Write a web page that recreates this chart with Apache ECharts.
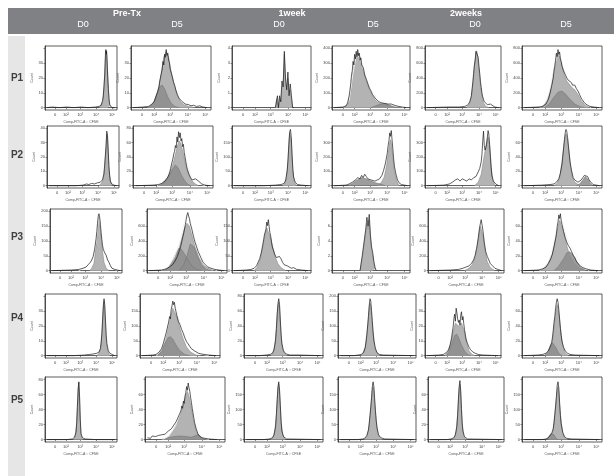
<!DOCTYPE html>
<html><head><meta charset="utf-8">
<script src="https://cdn.jsdelivr.net/npm/echarts@6/dist/echarts.min.js"></script>
<style>html,body{margin:0;padding:0;background:#fff}#c{width:614px;height:476px}</style>
</head><body><div id="c"></div>
<script>
// ---------- labels ----------
const TIMEPOINTS = ['Pre-Tx', '1week', '2weeks'];
const DAYS = ['D0', 'D5', 'D0', 'D5', 'D0', 'D5'];
const ROW_LABELS = ['P1', 'P2', 'P3', 'P4', 'P5'];
const XTICK_POS = [14, 29, 49, 71, 93];
const XTICK_LABELS = ['0', '10²', '10³', '10⁴', '10⁵'];
const YTICK_POS = [0, 25, 50, 75, 100];
const X_NAME = 'Comp-FITC-A :: CFSE';
const Y_NAME = 'Count';

// ---------- P1 ----------
const p1c1_fill = [[76,0],[78,3],[80,10],[82,35],[83,60],[84,85],[85,95],[86,88],[87,60],[88,30],[89,10],[90,3],[92,0]];
const p1c1_line = [[3,0],[10,1],[20,0],[30,1],[40,0],[50,1],[60,0],[70,1],[75,2],[78,4],[80,12],[81,20],[82,38],[83,55],[83.5,75],[84,92],[84.5,98],[85,90],[85.5,96],[86,85],[86.5,70],[87,55],[88,32],[89,14],[90,5],[91,2],[93,0],[97,0]];
const p1c2_fill = [[20,0],[25,3],[30,12],[34,30],[38,60],[41,85],[44,95],[47,85],[50,62],[54,38],[58,20],[62,10],[66,5],[72,2],[80,0]];
const p1c2_dark = [[22,0],[28,8],[32,22],[36,35],[39,38],[42,32],[46,18],[50,8],[55,2],[60,0]];
const p1c2_line = [[3,0],[15,1],[22,2],[26,6],[29,10],[31,18],[33,26],[35,35],[36,45],[37,42],[38,58],[39,65],[40,78],[41,72],[42,90],[43,85],[44,98],[45,88],[46,92],[47,80],[48,76],[49,65],[50,68],[51,55],[52,50],[53,44],[54,40],[55,36],[56,30],[57,28],[58,22],[59,24],[60,16],[62,13],[64,10],[66,8],[68,6],[70,4],[72,5],[75,3],[78,4],[82,2],[86,3],[90,1],[95,0]];
const p1c3_fill = [[55,0],[58,15],[59.5,0],[61,15],[62.5,10],[64,35],[65.5,40],[67,90],[68.5,40],[70,35],[71.5,50],[73,25],[74.5,30],[76,15],[77.5,0]];
const p1c3_line = [[55,0],[57,0],[58,20],[59.5,0],[61,20],[62.5,10],[64,45],[65.5,35],[67,95],[68.5,50],[70,30],[71.5,60],[73,20],[74.5,40],[76,20],[77.5,0],[79,0]];
const p1c4_fill = [[15,0],[20,5],[24,25],[27,60],[30,85],[33,92],[36,85],[40,65],[44,45],[48,30],[52,20],[56,12],[60,8],[66,5],[72,3],[80,1],[88,0]];
const p1c4_dark = [[50,0],[56,3],[62,6],[66,7],[70,6],[76,3],[82,0]];
const p1c4_white = [[15,0],[22,12],[27,58],[31,88],[35,86],[40,66],[46,42],[52,26],[58,16],[64,12],[70,10],[78,6],[86,2],[92,0]];
const p1c4_line = [[3,0],[14,1],[18,3],[20,8],[22,20],[24,40],[25,55],[26,62],[27,78],[28,72],[29,90],[30,82],[31,95],[32,86],[33,98],[34,88],[35,92],[36,80],[37,84],[38,72],[40,68],[42,55],[44,48],[46,40],[48,33],[50,28],[52,22],[54,20],[56,15],[58,12],[60,10],[62,11],[64,8],[66,9],[68,7],[70,8],[72,6],[74,5],[76,6],[78,4],[82,3],[86,2],[90,1],[95,0]];
const p1c5_fill = [[55,0],[58,5],[61,18],[63,40],[65,70],[67,92],[68,96],[69,90],[71,65],[73,38],[75,20],[77,8],[80,2],[84,0]];
const p1c5_line = [[3,0],[30,1],[45,1],[52,2],[56,4],[59,10],[61,20],[62,32],[63,44],[64,58],[65,72],[66,80],[67,95],[68,98],[69,92],[70,85],[71,70],[72,58],[73,44],[74,34],[75,24],[76,18],[77,14],[78,10],[80,7],[82,5],[84,8],[86,6],[88,3],[92,1],[97,0]];
const p1c6_fill = [[22,0],[28,5],[33,18],[37,40],[40,65],[43,85],[45,92],[47,88],[50,72],[53,55],[56,45],[60,38],[63,33],[66,30],[70,22],[74,12],[78,5],[84,0]];
const p1c6_dark = [[28,0],[34,6],[40,18],[45,26],[50,28],[55,22],[60,14],[66,6],[72,2],[78,0]];
const p1c6_white = [[22,0],[30,10],[36,35],[41,72],[45,93],[48,86],[52,66],[56,50],[62,40],[68,32],[72,22],[78,8],[86,0]];
const p1c6_line = [[3,0],[20,1],[26,2],[30,6],[33,14],[35,24],[37,36],[39,50],[40,62],[41,70],[42,80],[43,92],[44,86],[45,98],[46,90],[47,94],[48,82],[49,78],[50,70],[52,62],[54,56],[56,50],[58,46],[60,44],[62,42],[63,38],[64,40],[65,36],[66,38],[68,32],[70,28],[72,22],[74,16],[76,12],[78,8],[80,6],[82,4],[85,2],[90,1],[96,0]];

// ---------- P2 ----------
const p2c1_fill = [[72,0],[75,3],[78,10],[80,30],[82,65],[83,90],[84,85],[85,60],[86,30],[88,8],[90,0]];
const p2c1_line = [[3,0],[40,0],[50,1],[55,3],[58,2],[62,4],[66,3],[70,5],[74,6],[77,10],[79,20],[80,35],[81,52],[82,70],[83,95],[84,88],[85,62],[86,35],[87,18],[88,8],[90,3],[93,1],[97,0]];
const p2c2_fill = [[30,0],[36,4],[42,12],[46,22],[50,38],[53,55],[56,72],[58,78],[60,72],[63,55],[66,35],[70,18],[74,8],[78,3],[82,0]];
const p2c2_dark = [[34,0],[40,6],[45,16],[50,30],[53,36],[56,32],[60,20],[64,10],[68,3],[72,0]];
const p2c2_white = [[30,0],[38,8],[44,20],[49,40],[53,62],[56,80],[58,86],[61,78],[64,62],[67,42],[70,26],[74,14],[78,10],[82,6],[86,2],[90,0]];
const p2c2_line = [[3,0],[25,1],[32,2],[36,4],[38,6],[40,8],[42,12],[44,16],[46,24],[47,30],[48,36],[49,42],[50,48],[51,56],[52,60],[53,70],[54,66],[55,85],[56,76],[57,94],[58,84],[59,92],[60,78],[61,82],[62,68],[63,72],[64,58],[65,50],[66,42],[67,34],[68,28],[70,20],[72,14],[74,10],[76,8],[78,12],[80,10],[82,8],[84,5],[86,3],[90,1],[96,0]];
const p2c3_fill = [[64,0],[67,4],[69,15],[71,45],[72,75],[73,92],[74,95],[75,80],[76,50],[77,25],[79,6],[82,0]];
const p2c3_line = [[3,0],[40,0],[55,1],[62,2],[66,4],[68,10],[70,28],[71,48],[72,72],[73,94],[74,98],[75,85],[76,55],[77,30],[78,15],[80,6],[83,2],[88,1],[97,0]];
const p2c4_fill = [[58,0],[63,5],[67,15],[70,35],[72,55],[74,75],[75,80],[76,74],[78,50],[80,25],[83,8],[86,0]];
const p2c4_dark = [[20,0],[26,4],[32,10],[38,14],[44,12],[50,8],[56,5],[62,3],[68,0]];
const p2c4_line = [[3,0],[18,1],[22,3],[26,6],[30,10],[33,14],[36,12],[38,18],[40,14],[42,20],[44,16],[46,12],[48,14],[50,10],[52,12],[55,8],[58,10],[61,12],[64,18],[66,26],[68,36],[70,50],[71,58],[72,70],[73,78],[74,92],[75,86],[76,96],[77,80],[78,64],[79,48],[80,34],[82,20],[84,10],[86,5],[89,2],[93,1],[97,0]];
const p2c5_fill = [[65,0],[70,6],[74,20],[77,45],[79,60],[81,75],[83,85],[85,70],[87,35],[89,10],[92,0]];
const p2c5_line = [[3,0],[25,1],[32,3],[36,6],[40,10],[43,12],[46,8],[49,12],[52,10],[55,8],[58,12],[61,10],[64,14],[67,16],[70,24],[72,30],[74,42],[75,56],[76,78],[77,95],[78,70],[79,62],[80,66],[81,72],[82,84],[83,96],[84,90],[85,72],[86,52],[87,32],[88,18],[90,8],[93,3],[97,0]];
const p2c6_fill = [[40,0],[44,4],[47,14],[50,40],[52,65],[54,85],[55,90],[57,80],[59,55],[61,30],[63,15],[66,6],[70,2],[74,0]];
const p2c6_dark = [[68,0],[72,3],[76,10],[79,16],[82,12],[85,5],[88,0]];
const p2c6_line = [[3,0],[25,1],[35,2],[40,3],[43,6],[46,12],[48,22],[50,38],[51,52],[52,66],[53,80],[54,92],[55,98],[56,94],[57,84],[58,70],[59,56],[60,42],[62,26],[64,14],[66,10],[68,7],[70,6],[72,8],[74,10],[76,14],[78,18],[80,20],[82,16],[84,10],[86,6],[89,2],[93,1],[97,0]];

// ---------- P3 ----------
const p3c1_fill = [[55,0],[58,4],[61,12],[63,30],[65,55],[67,80],[68,90],[69,85],[71,60],[73,32],[75,14],[78,4],[82,0]];
const p3c1_white = [[40,0],[50,6],[56,14],[60,24],[64,48],[67,82],[68,90],[70,78],[73,46],[77,24],[82,12],[88,3],[94,0]];
const p3c1_line = [[3,0],[30,1],[40,2],[46,4],[50,6],[53,10],[56,14],[58,18],[60,24],[62,36],[64,54],[65,66],[66,80],[67,92],[68,96],[69,90],[70,78],[71,64],[72,52],[73,42],[74,36],[76,30],[78,26],[80,18],[82,14],[84,8],[86,4],[90,2],[97,0]];
const p3c2_fill = [[20,0],[28,5],[34,15],[39,32],[43,52],[47,72],[50,80],[53,75],[56,60],[60,40],[65,22],[70,10],[76,4],[84,0]];
const p3c2_dark = [[22,0],[28,8],[33,20],[37,32],[40,38],[43,36],[47,28],[51,18],[56,8],[62,2],[68,0]];
const p3c2_dark2 = [[40,0],[46,10],[50,25],[54,45],[56,48],[59,40],[63,25],[68,10],[74,2],[80,0]];
const p3c2_white = [[18,0],[26,6],[34,22],[40,45],[45,72],[49,92],[51,96],[54,85],[58,64],[62,44],[68,24],[74,10],[80,4],[88,0]];
const p3c2_line = [[3,0],[18,1],[24,3],[28,6],[32,10],[35,16],[38,24],[40,32],[42,40],[44,52],[46,64],[48,78],[49,86],[50,94],[51,98],[52,92],[53,88],[54,80],[56,70],[58,58],[60,48],[62,40],[64,32],[66,26],[68,20],[70,14],[73,10],[76,6],[80,4],[85,2],[90,1],[96,0]];
const p3c3_fill = [[28,0],[32,6],[36,20],[39,40],[42,62],[44,72],[46,70],[49,55],[52,38],[55,22],[58,12],[62,5],[68,0]];
const p3c3_line = [[3,0],[18,1],[24,2],[28,4],[31,8],[33,14],[35,20],[37,30],[39,44],[40,52],[41,60],[42,58],[43,70],[44,82],[45,76],[46,86],[47,74],[48,64],[49,58],[50,48],[51,40],[52,36],[54,28],[56,22],[58,20],[60,24],[62,20],[64,14],[66,10],[68,12],[70,8],[72,6],[75,4],[78,5],[82,2],[88,1],[96,0]];
const p3c4_fill = [[36,0],[38,8],[39.5,20],[41,35],[42.5,50],[44,65],[45.5,80],[47,70],[48.5,85],[50,55],[51.5,35],[53,25],[54.5,10],[56,3],[57.5,0]];
const p3c4_line = [[36,0],[38,10],[39.5,25],[41,40],[42.5,55],[44,70],[45.5,90],[47,75],[48.5,95],[50,60],[51.5,40],[53,30],[54.5,15],[56,5],[57.5,0]];
const p3c5_fill = [[48,0],[54,4],[58,10],[62,22],[65,42],[67,62],[69,75],[71,72],[73,55],[75,34],[78,15],[82,5],[88,0]];
const p3c5_line = [[3,0],[30,1],[40,2],[46,4],[50,6],[54,8],[57,12],[60,18],[62,26],[64,38],[66,54],[67,64],[68,74],[69,80],[70,86],[71,78],[72,70],[73,60],[74,48],[75,40],[76,32],[78,24],[80,18],[82,12],[85,8],[88,4],[92,2],[97,0]];
const p3c6_fill = [[22,0],[28,5],[33,14],[38,30],[42,55],[45,75],[47,85],[49,82],[52,65],[56,42],[60,24],[65,12],[72,4],[80,0]];
const p3c6_dark = [[40,0],[46,8],[52,20],[56,30],[60,32],[64,26],[68,16],[73,6],[80,0]];
const p3c6_white = [[22,0],[30,8],[36,24],[41,55],[45,82],[48,90],[51,80],[55,60],[60,44],[65,34],[70,20],[76,8],[84,0]];
const p3c6_line = [[3,0],[20,1],[26,3],[30,6],[33,12],[36,20],[38,28],[40,40],[42,54],[43,62],[44,74],[45,82],[46,94],[47,88],[48,96],[49,84],[50,78],[52,66],[54,56],[56,48],[58,42],[60,38],[62,32],[64,26],[66,22],[68,16],[70,12],[73,8],[76,5],[80,3],[86,1],[95,0]];

// ---------- P4 ----------
const p4c1_fill = [[72,0],[75,4],[77,12],[79,35],[80,60],[81,82],[82,92],[83,80],[84,50],[85,25],[87,8],[90,0]];
const p4c1_line = [[3,0],[40,0],[55,1],[62,2],[68,3],[72,4],[75,6],[77,12],[78,22],[79,38],[80,60],[81,84],[82,96],[83,86],[84,60],[85,36],[86,20],[87,14],[88,8],[90,4],[93,2],[97,0]];
const p4c2_fill = [[20,0],[25,5],[29,16],[33,35],[36,55],[39,72],[41,80],[43,78],[46,65],[50,45],[54,28],[58,15],[63,6],[70,1],[76,0]];
const p4c2_dark = [[22,0],[27,8],[31,20],[35,30],[38,32],[41,28],[45,18],[50,8],[56,2],[62,0]];
const p4c2_white = [[20,0],[26,8],[31,26],[36,56],[40,82],[42,88],[45,80],[49,60],[54,40],[59,24],[64,14],[70,6],[78,2],[86,0]];
const p4c2_line = [[3,0],[16,1],[20,2],[24,6],[27,12],[29,20],[31,30],[33,40],[35,52],[36,58],[37,66],[38,62],[39,78],[40,84],[41,92],[42,86],[43,90],[44,80],[45,74],[46,68],[48,58],[50,52],[52,44],[54,38],[56,30],[58,24],[60,20],[62,16],[64,12],[66,10],[68,8],[70,6],[73,4],[76,3],[80,2],[86,1],[95,0]];
const p4c3_fill = [[34,0],[37,5],[39,18],[41,45],[42,68],[43,85],[44,90],[45,80],[46,55],[47,30],[49,10],[52,2],[55,0]];
const p4c3_line = [[3,0],[20,0],[28,1],[33,2],[36,4],[38,10],[40,26],[41,46],[42,70],[43,88],[44,96],[45,86],[46,60],[47,36],[48,20],[50,8],[53,3],[58,1],[70,1],[97,0]];
const p4c4_fill = [[29,0],[32,4],[35,15],[37,35],[39,62],[40,80],[41,88],[42,84],[43,68],[45,38],[47,15],[50,4],[54,0]];
const p4c4_line = [[3,0],[20,0],[26,1],[30,2],[33,6],[35,14],[36,24],[37,36],[38,50],[39,66],[40,84],[41,96],[42,92],[43,76],[44,58],[45,40],[46,26],[48,12],[50,5],[53,2],[58,1],[97,0]];
const p4c5_fill = [[26,0],[30,6],[34,20],[37,40],[40,55],[42,58],[44,50],[46,48],[48,55],[50,52],[52,40],[55,20],[58,8],[62,2],[66,0]];
const p4c5_dark = [[28,0],[32,8],[36,22],[39,34],[42,36],[45,28],[48,18],[52,8],[56,2],[60,0]];
const p4c5_line = [[3,0],[18,1],[24,2],[28,5],[31,10],[33,18],[35,30],[36,40],[37,48],[38,62],[39,70],[40,58],[41,80],[42,72],[43,62],[44,56],[45,60],[46,52],[47,68],[48,74],[49,60],[50,66],[51,54],[52,44],[53,36],[54,28],[56,20],[58,14],[60,10],[63,6],[66,4],[70,2],[76,1],[96,0]];
const p4c6_fill = [[30,0],[34,5],[37,16],[39,35],[41,60],[43,80],[44,86],[45,82],[47,60],[49,35],[51,16],[54,5],[58,0]];
const p4c6_dark = [[28,0],[32,6],[35,16],[38,22],[40,20],[43,12],[46,4],[50,0]];
const p4c6_line = [[3,0],[20,1],[26,2],[30,4],[33,8],[35,14],[37,22],[38,30],[39,42],[40,56],[41,66],[42,80],[43,90],[44,96],[45,90],[46,78],[47,62],[48,46],[49,34],[50,24],[52,14],[54,8],[57,4],[60,2],[66,1],[97,0]];

// ---------- P5 ----------
const p5c1_fill = [[40,0],[42,6],[44,25],[45,55],[46,85],[47,95],[48,70],[49,30],[50,8],[52,0]];
const p5c1_line = [[3,0],[30,0],[38,1],[41,4],[43,12],[44,28],[45,55],[46,82],[47,96],[48,72],[49,34],[50,10],[52,3],[56,1],[70,0],[97,0]];
const p5c2_fill = [[24,0],[30,6],[35,15],[40,28],[44,42],[48,60],[51,75],[53,80],[55,72],[58,52],[61,30],[64,14],[68,4],[74,0]];
const p5c2_dark = [[20,0],[28,3],[36,5],[44,6],[52,5],[58,4],[62,6],[66,8],[70,5],[75,1],[80,0]];
const p5c2_white = [[22,0],[30,6],[38,22],[44,44],[49,70],[53,88],[56,82],[59,56],[62,30],[66,12],[72,3],[80,0]];
const p5c2_line = [[3,3],[5,5],[7,2],[9,6],[11,3],[13,5],[15,4],[17,7],[19,5],[21,8],[23,6],[25,9],[27,10],[29,14],[31,12],[33,18],[35,20],[37,26],[39,30],[41,36],[43,42],[45,48],[46,56],[47,52],[48,64],[49,60],[50,72],[51,78],[52,88],[53,82],[54,94],[55,86],[56,80],[57,70],[58,62],[59,52],[60,44],[61,36],[62,28],[64,18],[66,10],[68,6],[71,3],[75,2],[80,1],[90,0]];
const p5c3_fill = [[34,0],[37,4],[39,14],[41,40],[42,65],[43,85],[44,92],[45,80],[46,55],[47,28],[49,8],[52,0]];
const p5c3_line = [[3,0],[25,0],[32,1],[36,3],[38,8],[40,22],[41,42],[42,66],[43,88],[44,96],[45,82],[46,56],[47,30],[48,14],[50,5],[54,1],[97,0]];
const p5c4_fill = [[34,0],[37,5],[39,15],[41,38],[43,65],[44,82],[45,88],[46,80],[47,60],[49,30],[51,10],[54,2],[57,0]];
const p5c4_line = [[3,0],[25,0],[32,1],[35,3],[37,7],[39,16],[40,26],[41,40],[42,54],[43,70],[44,88],[45,96],[46,88],[47,68],[48,48],[49,32],[50,20],[52,8],[55,3],[60,1],[97,0]];
const p5c5_fill = [[32,0],[35,4],[37,14],[39,40],[40,65],[41,85],[42,92],[43,80],[44,50],[45,24],[47,6],[50,0]];
const p5c5_line = [[3,0],[25,0],[30,1],[34,3],[36,8],[38,22],[39,42],[40,66],[41,88],[42,98],[43,82],[44,52],[45,28],[46,14],[48,5],[52,1],[97,0]];
const p5c6_fill = [[34,0],[37,5],[39,16],[41,40],[43,68],[44,82],[45,88],[46,80],[47,58],[49,28],[51,10],[54,2],[57,0]];
const p5c6_dark = [[30,0],[33,4],[36,10],[38,12],[40,8],[42,3],[45,0]];
const p5c6_line = [[3,0],[25,0],[30,1],[33,3],[35,6],[37,10],[39,18],[40,28],[41,42],[42,56],[43,72],[44,90],[45,96],[46,86],[47,62],[48,40],[49,26],[51,12],[53,5],[56,2],[62,1],[97,0]];

// y tick labels per panel (shown at 0,25,50,75,100 % of peak scale)
const YT = [
  [['0','10','20','30',''],['0','10','20','30',''],['0','1','2','3','4'],['0','100','200','300','400'],['0','200','400','600','800'],['0','200','400','600','800']],
  [['0','10','20','30','40'],['0','20','40','60','80'],['0','50','100','150',''],['0','100','200','300',''],['0','100','200','300',''],['0','20','40','60','']],
  [['0','50','100','150','200'],['0','200','400','600',''],['0','50','100','150',''],['0','2','4','6',''],['0','200','400','600',''],['0','20','40','60','']],
  [['0','10','20','30',''],['0','50','100','150',''],['0','20','40','60','80'],['0','50','100','150','200'],['0','10','20','30',''],['0','20','40','60','']],
  [['0','20','40','60','80'],['0','20','40','60',''],['0','50','100','150',''],['0','50','100','150',''],['0','20','40','60',''],['0','50','100','150','']]
];

const PANELS = [
  [{f:p1c1_fill,l:p1c1_line},{f:p1c2_fill,d:[p1c2_dark],l:p1c2_line},{f:p1c3_fill,l:p1c3_line,step:true},{f:p1c4_fill,d:[p1c4_dark],w:p1c4_white,l:p1c4_line},{f:p1c5_fill,l:p1c5_line},{f:p1c6_fill,d:[p1c6_dark],w:p1c6_white,l:p1c6_line}],
  [{f:p2c1_fill,l:p2c1_line},{f:p2c2_fill,d:[p2c2_dark],w:p2c2_white,l:p2c2_line},{f:p2c3_fill,l:p2c3_line},{f:p2c4_fill,d:[p2c4_dark],l:p2c4_line},{f:p2c5_fill,l:p2c5_line},{f:p2c6_fill,d:[p2c6_dark],l:p2c6_line}],
  [{f:p3c1_fill,w:p3c1_white,l:p3c1_line},{f:p3c2_fill,d:[p3c2_dark,p3c2_dark2],w:p3c2_white,l:p3c2_line},{f:p3c3_fill,l:p3c3_line},{f:p3c4_fill,l:p3c4_line,step:true},{f:p3c5_fill,l:p3c5_line},{f:p3c6_fill,d:[p3c6_dark],w:p3c6_white,l:p3c6_line}],
  [{f:p4c1_fill,l:p4c1_line},{f:p4c2_fill,d:[p4c2_dark],w:p4c2_white,l:p4c2_line},{f:p4c3_fill,l:p4c3_line},{f:p4c4_fill,l:p4c4_line},{f:p4c5_fill,d:[p4c5_dark],l:p4c5_line},{f:p4c6_fill,d:[p4c6_dark],l:p4c6_line}],
  [{f:p5c1_fill,l:p5c1_line},{f:p5c2_fill,d:[p5c2_dark],w:p5c2_white,l:p5c2_line},{f:p5c3_fill,l:p5c3_line},{f:p5c4_fill,l:p5c4_line},{f:p5c5_fill,l:p5c5_line},{f:p5c6_fill,d:[p5c6_dark],l:p5c6_line}]
];

// ---------- layout (style only) ----------
const ROW_TOP = [46, 126, 209, 294, 377];
const ROW_H = [64, 62, 64, 64, 65];
const COL_LEFT = [
  [45,131,232,332,425,522],
  [47,133,232,332,425,522],
  [50,147,232,332,428,522],
  [45,140,244,338,425,522],
  [45,145,244,338,428,522]
];
const COL_W = [72, 80, 79, 78, 76, 80];
const ROW_LABEL_Y = [78, 155, 237, 318, 400];
const HEAD_TP_X = [127, 292, 466];
const HEAD_DAY_X = [83, 177, 279, 373, 475, 566];

const FONT = 'Liberation Sans';
const grids = [], xAxes = [], yAxes = [], series = [];
let gi = 0;
for (let r = 0; r < 5; r++) {
  for (let c = 0; c < 6; c++) {
    const p = PANELS[r][c];
    const yt = YT[r][c];
    grids.push({left: COL_LEFT[r][c], top: ROW_TOP[r], width: COL_W[c], height: ROW_H[r],
      show: true, borderColor: '#333', borderWidth: 0.8, backgroundColor: '#fff'});
    xAxes.push({type: 'value', gridIndex: gi, min: 0, max: 100,
      name: X_NAME, nameLocation: 'middle', nameGap: 10,
      nameTextStyle: {fontSize: 3.5, color: '#555', fontFamily: FONT},
      axisLine: {show: true, lineStyle: {color: '#333', width: 0.8}},
      axisTick: {show: true, length: 1.5, customValues: XTICK_POS, lineStyle: {color: '#444', width: 0.6}},
      axisLabel: {show: true, customValues: XTICK_POS, fontSize: 4, color: '#444', margin: 3, fontFamily: FONT,
        formatter: v => XTICK_LABELS[XTICK_POS.indexOf(v)]},
      splitLine: {show: false}});
    yAxes.push({type: 'value', gridIndex: gi, min: -4, max: 104,
      name: Y_NAME, nameLocation: 'middle', nameGap: 11, nameRotate: 90,
      nameTextStyle: {fontSize: 3.5, color: '#555', fontFamily: FONT},
      axisLine: {show: true, lineStyle: {color: '#333', width: 0.8}},
      axisTick: {show: true, length: 1.5, customValues: YTICK_POS, lineStyle: {color: '#444', width: 0.6}},
      axisLabel: {show: true, customValues: YTICK_POS, fontSize: 4, color: '#444', margin: 2, fontFamily: FONT,
        formatter: v => yt[YTICK_POS.indexOf(v)]},
      splitLine: {show: false}});
    const base = {type: 'line', xAxisIndex: gi, yAxisIndex: gi, symbol: 'none', silent: true, animation: false,
      step: p.step ? 'middle' : false};
    series.push(Object.assign({}, base, {data: p.f, lineStyle: {color: '#8a8a8a', width: 0.6},
      areaStyle: {color: '#b3b3b3', opacity: 1}}));
    (p.d || []).forEach(d => series.push(Object.assign({}, base, {data: d,
      lineStyle: {color: '#6e6e6e', width: 0.5}, areaStyle: {color: '#8c8c8c', opacity: 0.85}})));
    if (p.w) series.push(Object.assign({}, base, {data: p.w, lineStyle: {color: '#f4f4f4', width: 0.9}}));
    series.push(Object.assign({}, base, {data: p.l, lineStyle: {color: '#1a1a1a', width: 0.7}}));
    gi++;
  }
}

const graphics = [
  {type: 'rect', shape: {x: 8, y: 8, width: 606, height: 26}, style: {fill: '#808184'}, z: -1},
  {type: 'rect', shape: {x: 8, y: 36, width: 17, height: 440}, style: {fill: '#e6e6e6'}, z: -1}
];
TIMEPOINTS.forEach((t, i) => graphics.push({type: 'text', x: HEAD_TP_X[i], y: 14,
  style: {text: t, fill: '#fff', font: 'bold 9px ' + FONT, textAlign: 'center', textVerticalAlign: 'middle'}}));
DAYS.forEach((t, i) => graphics.push({type: 'text', x: HEAD_DAY_X[i], y: 25,
  style: {text: t, fill: '#fff', font: '9px ' + FONT, textAlign: 'center', textVerticalAlign: 'middle'}}));
ROW_LABELS.forEach((t, i) => graphics.push({type: 'text', x: 17, y: ROW_LABEL_Y[i],
  style: {text: t, fill: '#3f3f3f', font: 'bold 10px ' + FONT, textAlign: 'center', textVerticalAlign: 'middle'}}));

const chart = echarts.init(document.getElementById('c'), null, {renderer: 'canvas'});
chart.setOption({animation: false, backgroundColor: '#fff', grid: grids, xAxis: xAxes, yAxis: yAxes,
  series: series, graphic: graphics});
</script></body></html>
